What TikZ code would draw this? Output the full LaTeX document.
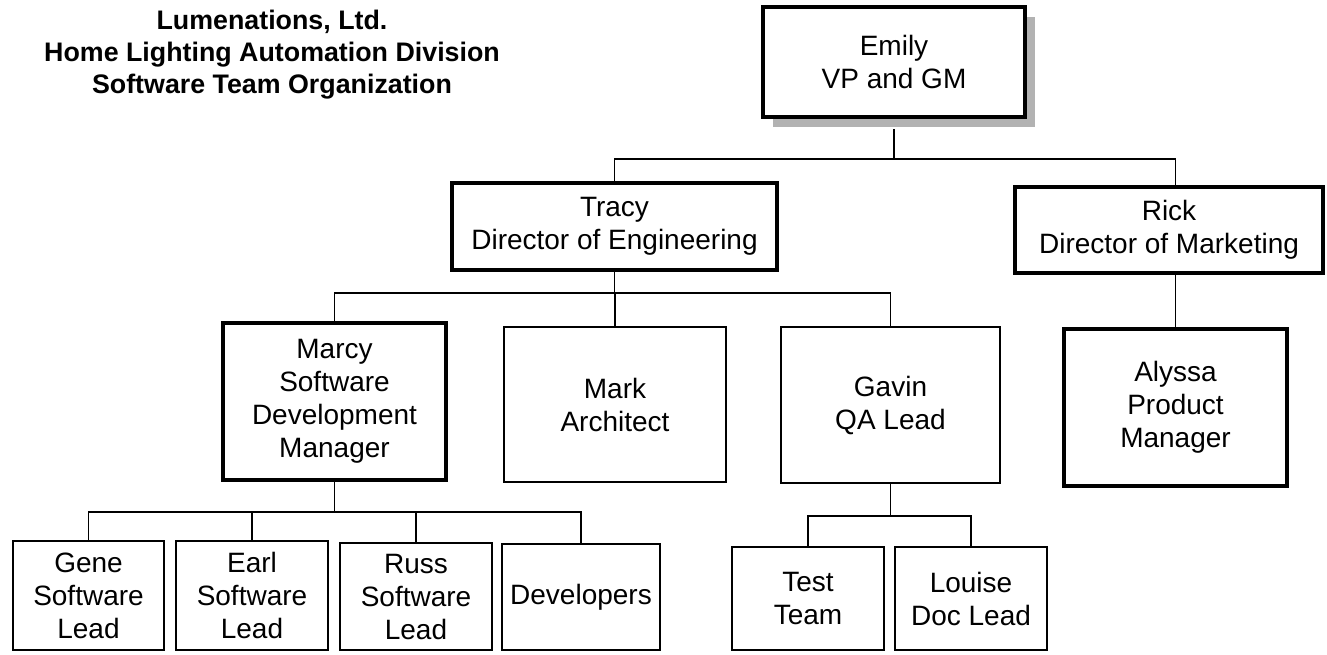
\documentclass[tikz,border=0pt]{standalone}
\usepackage{fontspec}
\setmainfont{Liberation Sans}
\usetikzlibrary{shadows}

\newcommand{\boxfont}{\fontsize{14}{16.5}\selectfont}
\newcommand{\titlefont}{\fontsize{13.4}{16}\selectfont\bfseries}

\tikzset{
    person/.style={draw, line width=1pt, align=center, inner sep=0pt, font=\boxfont},
    boss/.style={person, line width=2pt},
    link/.style={line width=0.8pt}
}

\begin{document}
\begin{tikzpicture}[x=0.5pt, y=-0.5pt]
    \useasboundingbox (0,0) rectangle (1327,654);

    % Title
    \node[align=center, font=\titlefont] (title) at (272,55)
        {Lumenations, Ltd.\\Home Lighting Automation Division\\Software Team Organization};

    % Top level
    \node[boss, fill=white, minimum width=131pt, minimum height=55pt,
          drop shadow={shadow xshift=5pt, shadow yshift=-5pt, fill=gray!60, opacity=1}]
          (emily) at (894,62) {Emily\\VP and GM};

    % Directors
    \node[boss, minimum width=162.5pt, minimum height=43.5pt] (tracy) at (614.5,226.5) {Tracy\\Director of Engineering};
    \node[boss, minimum width=154pt, minimum height=43pt] (rick) at (1169,230) {Rick\\Director of Marketing};

    % Engineering staff
    \node[boss, minimum width=111.5pt, minimum height=78.5pt] (marcy) at (334.5,401.5) {Marcy\\Software\\Development\\Manager};
    \node[person, minimum width=111pt, minimum height=77.5pt] (mark) at (615,404.5) {Mark\\Architect};
    \node[person, minimum width=109.5pt, minimum height=78pt] (gavin) at (890.5,405) {Gavin\\QA Lead};

    % Marketing staff
    \node[boss, minimum width=111.5pt, minimum height=78.5pt] (alyssa) at (1175.5,407.5) {Alyssa\\Product\\Manager};

    % Development team
    \node[person, minimum width=75.5pt, minimum height=54.5pt] (gene) at (88.5,595.5) {Gene\\Software\\Lead};
    \node[person, minimum width=76pt, minimum height=54.5pt] (earl) at (252,595.5) {Earl\\Software\\Lead};
    \node[person, minimum width=76pt, minimum height=53.5pt] (russ) at (416,596.5) {Russ\\Software\\Lead};
    \node[person, minimum width=79pt, minimum height=53pt] (devs) at (581,597) {Developers};

    % QA team
    \node[person, minimum width=76pt, minimum height=51.5pt] (test) at (808,598.5) {Test\\Team};
    \node[person, minimum width=76pt, minimum height=51.5pt] (louise) at (971,598.5) {Louise\\Doc Lead};

    % Connector levels
    \coordinate (topbus) at (0,159);
    \coordinate (engbus) at (0,293);
    \coordinate (devbus) at (0,512);
    \coordinate (qabus) at (0,516);

    % Emily to directors
    \draw[link] ([yshift=-5pt]emily.south) -- (emily.south |- topbus);
    \draw[link] (tracy.north) -- (tracy.north |- topbus) -| (alyssa.north |- rick.north);
    \draw[link] (alyssa.north |- rick.south) -- (alyssa.north);

    % Tracy to her staff
    \draw[link] (tracy.south) -- (tracy.south |- engbus);
    \draw[link] (marcy.north) -- (marcy.north |- engbus) -| (gavin.north);
    \draw[link] (mark.north) -- (mark.north |- engbus);

    % Marcy to developers
    \draw[link] (marcy.south) -- (marcy.south |- devbus);
    \draw[link] (gene.north) -- (gene.north |- devbus) -| (devs.north);
    \foreach \n in {earl,russ}
        \draw[link] (\n.north) -- (\n.north |- devbus);

    % Gavin to QA
    \draw[link] (gavin.south) -- (gavin.south |- qabus);
    \draw[link] (test.north) -- (test.north |- qabus) -| (louise.north);
\end{tikzpicture}
\end{document}
